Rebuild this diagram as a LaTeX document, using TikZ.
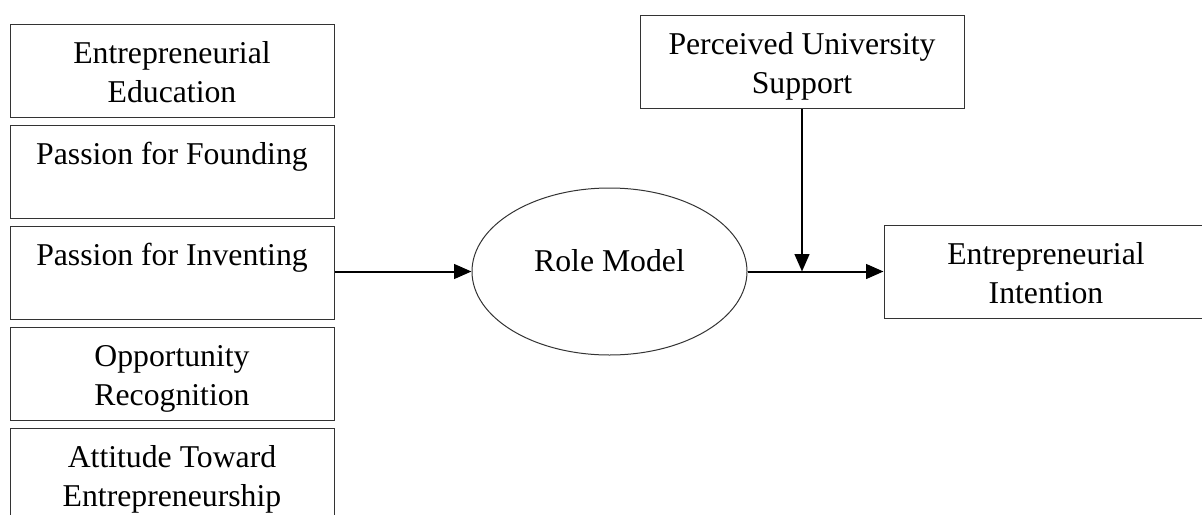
\documentclass[tikz,border=0pt]{standalone}
\usepackage{fontspec}
\setmainfont{Liberation Serif}
\usepackage{tikz}
\usetikzlibrary{shapes,arrows.meta,positioning}

\begin{document}
\begin{tikzpicture}[
    x=0.75pt, y=-0.75pt,
    node distance=5.25pt,
    box/.style={rectangle, draw=black!80, line width=0.75pt, minimum width=243pt, minimum height=69.75pt, align=center, inner sep=0pt, text height=52pt, text depth=4.75pt, font=\fontsize{23.8}{29.25}\selectfont},
    oval/.style={ellipse, draw=black!80, line width=0.75pt, minimum width=206.25pt, minimum height=125.25pt, inner sep=0pt, text height=12pt, text depth=12pt, font=\fontsize{23.8}{29.25}\selectfont},
    arr/.style={-{Triangle[length=13pt, width=11pt]}, line width=1.5pt}
]
    \clip (0,0) rectangle (1202,514);

    % Antecedents
    \node[box] (edu) at (172,70.5) {Entrepreneurial\\Education};
    \node[box, below=of edu] (found) {Passion for Founding\\~};
    \node[box, below=of found] (invent) {Passion for Inventing\\~};
    \node[box, below=of invent] (opp) {Opportunity\\Recognition};
    \node[box, below=of opp] (att) {Attitude Toward\\Entrepreneurship};

    % Mediator, moderator and outcome
    \node[oval] (role) at (609.5,271.5) {Role Model};
    \node[box] (support) at (802,62) {Perceived University\\Support};
    \node[box, right=102pt of role] (intent) {Entrepreneurial\\Intention};

    % Connections
    \coordinate (meet) at (support.south |- role.east);
    \draw[arr] (invent.east |- role.west) -- (role.west);
    \draw[arr] (role.east) -- (intent.west);
    \draw[arr] (support.south) -- (meet);
\end{tikzpicture}
\end{document}
